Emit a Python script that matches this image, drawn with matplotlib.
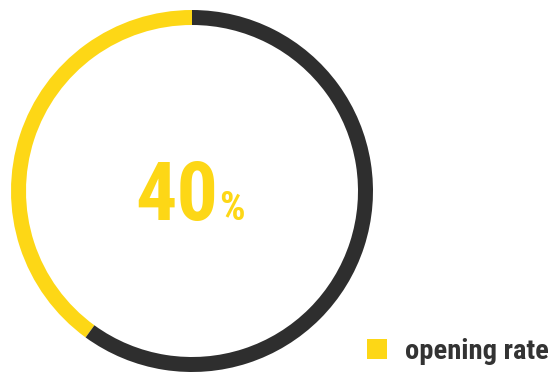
import matplotlib
matplotlib.use("Agg")
import matplotlib.pyplot as plt
from matplotlib.patches import Patch

categories = ["opening rate", "remaining"]
values = [40, 60]
center_value = "40"
center_unit = "%"

yellow = "#FDD716"
dark = "#2E2E2E"

plt.rcParams['font.family'] = ['Roboto Condensed', 'Roboto', 'DejaVu Sans']

fig = plt.figure(figsize=(5.58, 3.72), dpi=100)
cx, cy, R = 192, 191, 181
ax = fig.add_axes([(cx - R) / 558, (372 - cy - R) / 372, 2 * R / 558, 2 * R / 372])
wedges, _ = ax.pie(values, colors=[yellow, dark], startangle=90, counterclock=True,
                   radius=1.0, wedgeprops=dict(width=15 / R, linewidth=0))
ax.set_xlim(-1, 1)
ax.set_ylim(-1, 1)
ax.set_aspect('equal')
ax.axis('off')

ax.text((218 - cx) / R, -(220 - cy) / R, center_value, ha='right', va='baseline',
        fontsize=59, fontweight='heavy', color=yellow)
ax.text((219 - cx) / R, -(220 - cy) / R, center_unit, ha='left', va='baseline',
        fontsize=29, fontweight='heavy', color=yellow)

handle = Patch(facecolor=yellow, edgecolor='none')
fig.legend(handles=[handle], labels=[categories[0]], loc='lower right',
           bbox_to_anchor=(1.025, -0.042), frameon=False, handlelength=0.7, handleheight=0.7,
           handletextpad=0.65, borderpad=0.3,
           prop=dict(size=20.5, weight='heavy'), labelcolor='#333333')

fig.savefig("out.png", dpi=100)
